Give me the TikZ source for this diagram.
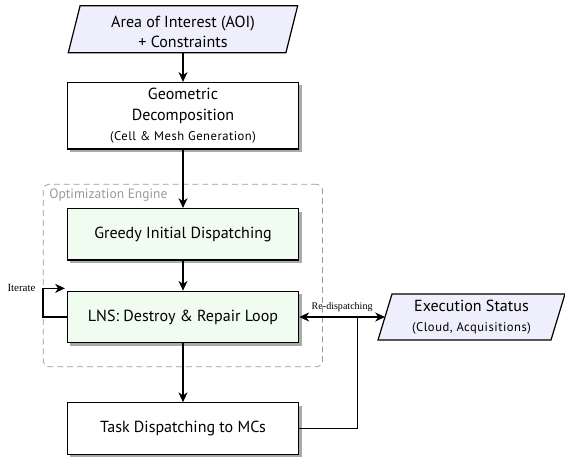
\documentclass[tikz,border=0pt]{standalone}
\usepackage{fontspec}
\setmainfont{Liberation Serif}
\setsansfont{PT Sans}
\usetikzlibrary{arrows.meta,shadows,calc,backgrounds}
\definecolor{iofill}{RGB}{238,238,252}
\definecolor{stepfill}{RGB}{240,252,240}
\definecolor{framegray}{RGB}{155,155,155}
\definecolor{shadowgray}{RGB}{170,170,170}
\newcommand{\subtxt}[1]{{\fontsize{8.4}{10}\selectfont\addfontfeature{LetterSpace=4}#1}}
\begin{document}
\begin{tikzpicture}[x=0.6667pt,y=-0.6667pt,
  >={Stealth[length=6.5pt,width=6pt,inset=2pt]},
  conn/.style={thick,->},
  maintxt/.style={font=\sffamily\fontsize{10.7}{13.4}\selectfont},
  procbox/.style={draw,thick,fill=white,minimum width=154.3pt,minimum height=34.3pt,
    align=center,maintxt,inner sep=0pt,
    drop shadow={shadow xshift=2pt,shadow yshift=-2pt,fill=shadowgray,opacity=1}},
  optbox/.style={procbox,fill=stepfill},
  iotext/.style={minimum height=28pt,align=center,maintxt,inner sep=0pt},
  ioshape/.style={draw,thick,fill=iofill},
  smalllbl/.style={font=\fontsize{6.7}{8}\selectfont,inner sep=1pt},
  frame/.style={draw=framegray,line width=0.5pt,dash pattern=on 4pt off 2.6pt,rounded corners=3.5pt,
    minimum width=186.1pt,minimum height=121.6pt,inner sep=0pt}
]
\useasboundingbox (0,0) rectangle (565,459);

% dashed frame
\node[frame] (engine) at (182.9,275.5) {};
\node[anchor=base west,font=\sffamily\fontsize{9}{11}\selectfont,text=framegray,inner sep=0pt] (englbl) at (49,198.5) {Optimization Engine};

% input
\node[iotext,minimum width=145pt] (aoi) at (183,31.5) {Area of Interest (AOI)\\ + Constraints};
% geometric decomposition
\node[procbox,minimum height=44.3pt] (geo) at (183,115.7) {Geometric\\ Decomposition\\ \subtxt{(Cell \& Mesh Generation)}};
% greedy
\node[optbox] (greedy) at (183,234.3) {Greedy Initial Dispatching};
% LNS
\node[optbox] (lns) at (183,317) {LNS: Destroy \& Repair Loop};
% task
\node[procbox] (task) at (183,428.5) {Task Dispatching to MCs};
% execution status
\node[iotext,minimum width=115pt] (exec) at (471.5,317) {Execution Status\\ \subtxt{(Cloud, Acquisitions)}};

\begin{scope}[on background layer]
  \draw[ioshape] ($(aoi)+(-102.9,-25.8)$) -- ($(aoi)+(114.7,-25.8)$) -- ($(aoi)+(102.9,21.2)$) -- ($(aoi)+(-114.7,21.2)$) -- cycle;
  \draw[ioshape] ($(exec)+(-79.5,-23)$) -- ($(exec)+(93.5,-23)$) -- ($(exec)+(79.5,23)$) -- ($(exec)+(-93.5,23)$) -- cycle;
\end{scope}

% connectors
\draw[conn] (aoi) ++(0,21.2) coordinate (aoiS) -- (geo.north);
\draw[conn] (geo.south) -- (greedy.north);
\draw[conn] (greedy.south) -- (lns.north);
\draw[conn] (lns.south) -- (task.north);

\coordinate (loopend) at ($(lns.north west)+(-1.8,-2.3)$);
\draw[conn] (lns.west) -- (lns.west -| engine.west) |- (loopend);
\node[smalllbl,font=\fontsize{7.3}{8}\selectfont] (iterlbl) at (21.5,288) {Iterate};

\draw[thick,<->] (lns.east) -- node[smalllbl,above=2pt] (redlbl) {Re-dispatching} ($(exec)+(-86.5,0)$) coordinate (execW);
\coordinate (junc) at (357.5,317);
\draw[thick] (task.east) -| (junc);
\end{tikzpicture}
\end{document}
